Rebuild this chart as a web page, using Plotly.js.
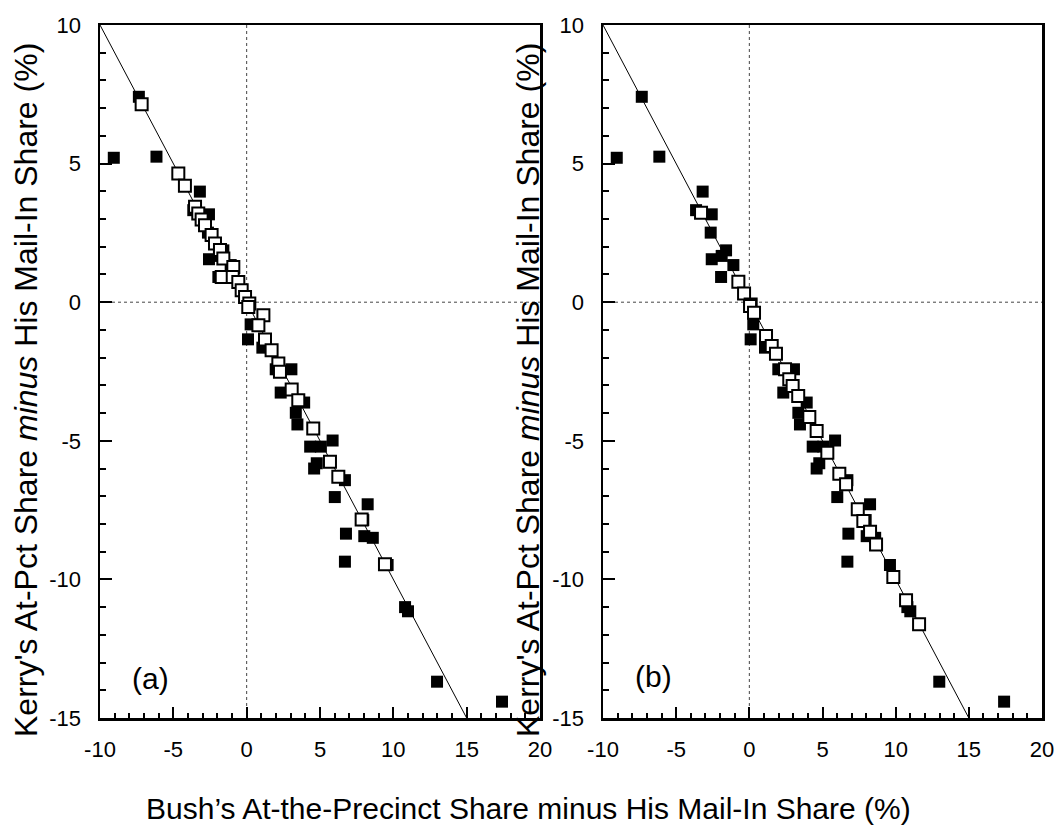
<!DOCTYPE html>
<html>
<head>
<meta charset="utf-8">
<script src="https://cdn.plot.ly/plotly-3.0.1.min.js"></script>
<style>html,body{margin:0;padding:0;background:#fff;}#chart{width:1057px;height:827px;}</style>
</head>
<body>
<div id="chart"></div>
<script>
// Filled squares (same in both panels)
const filledX = [-9.06, -7.35, -6.15, -3.19, -3.64, -2.57, -2.64, -1.59, -2.57, -1.89, -1.09, -1.93,
  0.09, 0.27, 1.07, 3.05, 1.98, 2.32, 3.92, 3.35, 3.46, 5.86, 4.33, 5.06, 4.78, 4.60,
  6.70, 6.01, 8.25, 7.95, 6.77, 8.02, 8.60, 6.70, 9.61, 10.80, 11.00, 12.98, 17.41];
const filledY = [5.21, 7.41, 5.25, 3.99, 3.32, 3.17, 2.51, 1.87, 1.55, 1.67, 1.34, 0.91,
  -1.34, -0.80, -1.64, -2.42, -2.42, -3.26, -3.62, -3.99, -4.41, -4.99, -5.21, -5.21, -5.81, -6.00,
  -6.42, -7.03, -7.29, -7.86, -8.35, -8.44, -8.50, -9.36, -9.48, -11.00, -11.15, -13.69, -14.41];

// Open squares, panel (a)
const openAX = [-7.16, -4.66, -4.21, -3.52, -3.30, -3.07, -2.84, -2.39, -2.16, -1.82, -1.59, -0.91, -1.70,
  -0.95, -0.57, -0.34, -0.11, 0.18, 0.11, 1.14, 0.80, 1.25, 1.70, 2.16, 2.27, 3.07, 3.52, 4.54, 5.68, 6.25, 7.84, 9.43];
const openAY = [7.14, 4.64, 4.20, 3.44, 3.20, 2.98, 2.78, 2.42, 2.12, 1.88, 1.58, 1.27, 0.91,
  0.91, 0.73, 0.43, 0.19, -0.05, -0.17, -0.47, -0.83, -1.35, -1.73, -2.21, -2.51, -3.15, -3.54, -4.56, -5.76, -6.30, -7.84, -9.45];

// Open squares, panel (b)
const openBX = [-3.30, -0.75, -0.36, 0.09, 0.05, 0.32, 1.14, 1.53, 1.82, 2.44, 2.73, 2.96, 3.34, 4.10,
  4.60, 5.33, 6.15, 6.61, 7.41, 7.79, 8.25, 8.66, 9.84, 10.71, 11.60];
const openBY = [3.23, 0.74, 0.31, -0.08, -0.14, -0.38, -1.22, -1.58, -1.86, -2.42, -2.78, -3.02, -3.38, -4.14,
  -4.65, -5.43, -6.19, -6.57, -7.47, -7.89, -8.28, -8.74, -9.91, -10.75, -11.62];

// Reference line y = -x
const lineX = [-10, 15];
const lineY = [10, -15];

// Tick values and labels (hyphen-minus as in the original)
const xTickVals = [-10, -5, 0, 5, 10, 15, 20];
const xTickText = ['-10', '-5', '0', '5', '10', '15', '20'];
const yTickVals = [-15, -10, -5, 0, 5, 10];
const yTickText = ['-15', '-10', '-5', '0', '5', '10'];

const xTitle = "Bush\u2019s At-the-Precinct Share minus His Mail-In Share (%)";
const yTitle = "Kerry's At-Pct Share <i>minus</i> His Mail-In Share (%)";
const panelLabels = ["(a)", "(b)"];

const FONT = "Liberation Sans, Arial, Helvetica, sans-serif";

function panelTraces(xa, ya, ox, oy) {
  return [
    {x: lineX, y: lineY, xaxis: xa, yaxis: ya, mode: 'lines', line: {color: '#000', width: 1}, hoverinfo: 'skip'},
    {x: filledX, y: filledY, xaxis: xa, yaxis: ya, mode: 'markers',
     marker: {symbol: 'square', size: 12, color: '#000', line: {width: 0}}},
    {x: ox, y: oy, xaxis: xa, yaxis: ya, mode: 'markers',
     marker: {symbol: 'square', size: 12, color: '#fff', line: {width: 2, color: '#000'}}}
  ];
}

const data = [].concat(panelTraces('x', 'y', openAX, openAY), panelTraces('x2', 'y2', openBX, openBY));

function xAxis(domain, anchor) {
  return {domain: domain, anchor: anchor, range: [-10, 20],
    tickmode: 'array', tickvals: xTickVals, ticktext: xTickText,
    showgrid: false, zeroline: false, showline: true, linewidth: 2.5, linecolor: 'black', mirror: true,
    ticks: 'inside', ticklen: 11, tickwidth: 2, tickcolor: 'black', ticklabelstandoff: 10,
    minor: {tickmode: 'linear', tick0: 0, dtick: 1, ticks: 'inside', ticklen: 5, tickwidth: 2, tickcolor: 'black', showgrid: false},
    tickfont: {family: FONT, size: 22, color: '#000'}, fixedrange: true};
}
function yAxis(domain, anchor) {
  return {domain: domain, anchor: anchor, range: [-15, 10],
    tickmode: 'array', tickvals: yTickVals, ticktext: yTickText,
    showgrid: false, zeroline: false, showline: true, linewidth: 2.5, linecolor: 'black', mirror: true,
    ticks: 'inside', ticklen: 12, tickwidth: 2, tickcolor: 'black', ticklabelstandoff: 12,
    minor: {tickmode: 'linear', tick0: 0, dtick: 1, ticks: 'inside', ticklen: 6, tickwidth: 2, tickcolor: 'black', showgrid: false},
    tickfont: {family: FONT, size: 22, color: '#000'}, fixedrange: true};
}

const W = 1057, H = 827;
const yDom = [1 - 718 / H, 1 - 25 / H];

function zeroShapes(xr, yr) {
  const dash = {color: '#444', width: 1, dash: '3px,3px'};
  return [
    {type: 'line', xref: xr, yref: yr + ' domain', x0: 0, x1: 0, y0: 0, y1: 1, line: dash, layer: 'below'},
    {type: 'line', xref: xr + ' domain', yref: yr, x0: 0, x1: 1, y0: 0, y1: 0, line: dash, layer: 'below'}
  ];
}

const layout = {
  width: W, height: H,
  margin: {l: 0, r: 0, t: 0, b: 0},
  paper_bgcolor: '#fff', plot_bgcolor: 'rgba(0,0,0,0)',
  showlegend: false,
  font: {family: FONT, color: '#000'},
  xaxis: xAxis([100 / W, 540 / W], 'y'),
  yaxis: yAxis(yDom, 'x'),
  xaxis2: xAxis([603 / W, 1042 / W], 'y2'),
  yaxis2: yAxis(yDom, 'x2'),
  shapes: [].concat(zeroShapes('x', 'y'), zeroShapes('x2', 'y2')),
  annotations: [
    {text: xTitle, xref: 'paper', yref: 'paper', x: 528 / W, y: 1 - 808 / H, xanchor: 'center', yanchor: 'middle',
     showarrow: false, font: {family: FONT, size: 30, color: '#000'}},
    {text: yTitle, xref: 'paper', yref: 'paper', x: 26 / W, y: 1 - 390 / H, xanchor: 'center', yanchor: 'middle',
     textangle: -90, showarrow: false, font: {family: FONT, size: 32, color: '#000'}},
    {text: yTitle, xref: 'paper', yref: 'paper', x: 528 / W, y: 1 - 390 / H, xanchor: 'center', yanchor: 'middle',
     textangle: -90, showarrow: false, font: {family: FONT, size: 32, color: '#000'}},
    {text: panelLabels[0], xref: 'paper', yref: 'paper', x: 150 / W, y: 1 - 678 / H, xanchor: 'center', yanchor: 'middle',
     showarrow: false, font: {family: FONT, size: 30, color: '#000'}},
    {text: panelLabels[1], xref: 'paper', yref: 'paper', x: 653 / W, y: 1 - 676 / H, xanchor: 'center', yanchor: 'middle',
     showarrow: false, font: {family: FONT, size: 30, color: '#000'}}
  ]
};

Plotly.newPlot('chart', data, layout, {displayModeBar: false, staticPlot: true});
</script>
</body>
</html>
